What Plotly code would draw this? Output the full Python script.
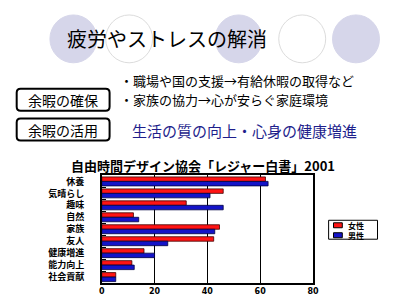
import plotly.graph_objects as go

W, H = 406, 304

categories = ["休養", "気晴らし", "趣味", "自然", "家族", "友人", "健康増進", "能力向上", "社会貢献"]
female = [62, 46, 32, 12, 44.6, 42.4, 16, 11.4, 5.3]
male = [63, 41, 46, 14, 42.8, 25, 20, 12.3, 5.3]
series_names = ["女性", "男性"]
series_colors = ["#FF1414", "#1414C8"]
x_ticks = [0, 20, 40, 60, 80]

JP = "Noto Sans CJK JP"


def px(x):
    return x / W


def py(y):
    return 1 - y / H


fig = go.Figure()
fig.add_trace(go.Bar(y=categories, x=female, name=series_names[0], orientation="h",
                     marker=dict(color=series_colors[0], line=dict(color="#400000", width=0.8))))
fig.add_trace(go.Bar(y=categories, x=male, name=series_names[1], orientation="h",
                     marker=dict(color=series_colors[1], line=dict(color="#000040", width=0.8))))

shapes = []
# decorative circles
for cx, filled in [(72, True), (129, False), (241, True), (306, False), (361, True)]:
    r = 24
    shapes.append(dict(type="circle", xref="paper", yref="paper",
                       x0=px(cx - r), x1=px(cx + r), y0=py(38 + r), y1=py(38 - r),
                       fillcolor="#D6D6EA" if filled else "white",
                       line=dict(color="#D6D6EA" if filled else "#DCDCDC", width=1),
                       layer="below"))


def rounded_rect(x0, y0, x1, y1, r):
    p = (f"M {px(x0 + r)} {py(y0)} L {px(x1 - r)} {py(y0)} "
         f"Q {px(x1)} {py(y0)} {px(x1)} {py(y0 + r)} L {px(x1)} {py(y1 - r)} "
         f"Q {px(x1)} {py(y1)} {px(x1 - r)} {py(y1)} L {px(x0 + r)} {py(y1)} "
         f"Q {px(x0)} {py(y1)} {px(x0)} {py(y1 - r)} L {px(x0)} {py(y0 + r)} "
         f"Q {px(x0)} {py(y0)} {px(x0 + r)} {py(y0)} Z")
    return dict(type="path", xref="paper", yref="paper", path=p,
                line=dict(color="black", width=2), fillcolor="white")


shapes.append(rounded_rect(14, 88, 109, 110, 4))
shapes.append(rounded_rect(14, 118, 109, 140, 4))

# compact legend box (drawn manually to match the small original legend)
shapes.append(dict(type="rect", xref="paper", yref="paper",
                   x0=px(333), x1=px(383), y0=py(239), y1=py(220),
                   line=dict(color="black", width=1), fillcolor="white"))
legend_rows = [225, 235]

annotations = [
    dict(text="疲労やストレスの解消", x=px(63), y=py(38), xanchor="left", yanchor="middle",
         font=dict(family=JP, size=20, color="black")),
    dict(text="余暇の確保", x=px(61.5), y=py(99), xanchor="center", yanchor="middle",
         font=dict(family=JP, size=14, color="black")),
    dict(text="余暇の活用", x=px(61.5), y=py(129), xanchor="center", yanchor="middle",
         font=dict(family=JP, size=14, color="black")),
    dict(text="・職場や国の支援→有給休暇の取得など", x=px(118), y=py(80), xanchor="left", yanchor="middle",
         font=dict(family=JP, size=13, color="black")),
    dict(text="・家族の協力→心が安らぐ家庭環境", x=px(118), y=py(99), xanchor="left", yanchor="middle",
         font=dict(family=JP, size=13, color="black")),
    dict(text="生活の質の向上・心身の健康増進", x=px(130), y=py(130), xanchor="left", yanchor="middle",
         font=dict(family=JP, size=15, color="#1E1E8C")),
    dict(text="<b>自由時間デザイン協会「レジャー白書」2001</b>", x=px(205), y=py(165),
         xanchor="center", yanchor="middle",
         font=dict(family=JP, size=13, color="black")),
]
for name, color, yc in zip(series_names, series_colors, legend_rows):
    shapes.append(dict(type="rect", xref="paper", yref="paper",
                       x0=px(338), x1=px(347), y0=py(yc + 2.5), y1=py(yc - 2.5),
                       line=dict(color="black", width=1), fillcolor=color))
    annotations.append(dict(text=f"<b>{name}</b>", x=px(351), y=py(yc), xanchor="left", yanchor="middle",
                            font=dict(family=JP, size=8, color="black")))
for a in annotations:
    a.update(xref="paper", yref="paper", showarrow=False)

fig.update_layout(
    width=W, height=H,
    margin=dict(l=0, r=0, t=0, b=0),
    paper_bgcolor="white", plot_bgcolor="white",
    barmode="group", bargap=0.25, bargroupgap=0,
    showlegend=False,
    xaxis=dict(domain=[px(101), px(317)], range=[0, 80], tickvals=x_ticks,
               ticktext=[f"<b>{v}</b>" for v in x_ticks],
               showgrid=True, gridcolor="black", gridwidth=1,
               showline=True, linecolor="black", linewidth=1.5, mirror=True,
               zeroline=False, ticks="", tickfont=dict(family="DejaVu Sans", size=8, color="black")),
    yaxis=dict(domain=[py(283), py(175)], autorange="reversed", type="category",
               showline=True, linecolor="black", linewidth=1.5, mirror=True,
               ticks="inside", tickson="boundaries", ticklen=4, tickcolor="black",
               ticklabelstandoff=14,
               tickvals=categories, ticktext=[f"<b>{c}</b>" for c in categories],
               tickfont=dict(family=JP, size=9, color="black")),
    shapes=shapes,
    annotations=annotations,
)

fig.write_html("out.html")
